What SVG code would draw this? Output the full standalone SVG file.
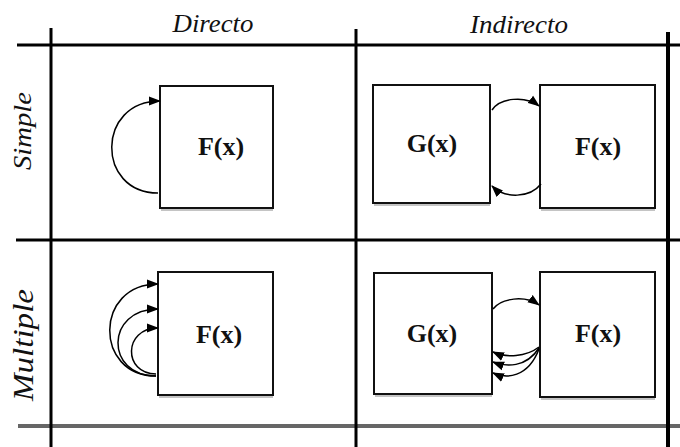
<svg xmlns="http://www.w3.org/2000/svg" width="680" height="447" viewBox="0 0 680 447">
<defs>
<marker id="ah" viewBox="0 0 12 10" refX="11" refY="5" markerWidth="12" markerHeight="10" markerUnits="userSpaceOnUse" orient="auto">
<path d="M0,0.5 L12,5 L0,9.5 Z" fill="#000"/>
</marker>
<style>
.grid{stroke:#000;stroke-width:3;fill:none}
.box{fill:#fff;stroke:#111;stroke-width:2}
.shadow{stroke:#c4c4c4;stroke-width:2;fill:none}
.lbl{font-family:"Liberation Serif","Times New Roman",serif;font-size:26px;font-weight:bold;fill:#111;text-anchor:middle}
.hdr{font-family:"Liberation Serif","Times New Roman",serif;font-size:26px;font-style:italic;fill:#111;text-anchor:middle}
.arr{stroke:#000;stroke-width:1.5;fill:none;marker-end:url(#ah)}
</style>
</defs>
<rect width="680" height="447" fill="#fff"/>
<g id="grid">
<line class="grid" x1="17" y1="45" x2="680" y2="45"/>
<line class="grid" x1="16" y1="240" x2="680" y2="240"/>
<line x1="18" y1="426" x2="680" y2="426" stroke="#666" stroke-width="4"/>
<line class="grid" x1="51" y1="28" x2="51" y2="447"/>
<line class="grid" x1="356" y1="29" x2="356" y2="447"/>
<line class="grid" x1="668" y1="32" x2="668" y2="447" style="stroke-width:4"/>
</g>
<g id="headers">
<text class="hdr" x="213" y="32" textLength="81" lengthAdjust="spacingAndGlyphs">Directo</text>
<text class="hdr" x="519" y="33" textLength="98" lengthAdjust="spacingAndGlyphs">Indirecto</text>
<text class="hdr" transform="translate(31,131) rotate(-90)" textLength="78" lengthAdjust="spacingAndGlyphs">Simple</text>
<text class="hdr" transform="translate(33,345) rotate(-90)" style="font-size:30px" textLength="112" lengthAdjust="spacingAndGlyphs">Multiple</text>
</g>
<g id="f-simple-directo">
<line class="shadow" x1="161" y1="210" x2="273" y2="210"/>
<rect class="box" x="160" y="86" width="113" height="122"/>
<text class="lbl" x="221" y="155">F(x)</text>
</g>
<g id="g-simple-indirecto">
<line class="shadow" x1="374" y1="205" x2="490" y2="205"/>
<rect class="box" x="373" y="85" width="117" height="118"/>
<text class="lbl" x="432" y="152">G(x)</text>
</g>
<g id="f-simple-indirecto">
<line class="shadow" x1="541" y1="210" x2="655" y2="210"/>
<rect class="box" x="540" y="85" width="115" height="123"/>
<text class="lbl" x="598" y="155">F(x)</text>
</g>
<g id="f-multiple-directo">
<line class="shadow" x1="159" y1="397" x2="273" y2="397"/>
<rect class="box" x="158" y="272" width="115" height="123"/>
<text class="lbl" x="219" y="343">F(x)</text>
</g>
<g id="g-multiple-indirecto">
<line class="shadow" x1="375" y1="396" x2="492" y2="396"/>
<rect class="box" x="374" y="273" width="118" height="121"/>
<text class="lbl" x="432" y="342">G(x)</text>
</g>
<g id="f-multiple-indirecto">
<line class="shadow" x1="541" y1="399" x2="655" y2="399"/>
<rect class="box" x="540" y="272" width="115" height="125"/>
<text class="lbl" x="598" y="342">F(x)</text>
</g>
<g id="connectors">
<path class="arr" d="M158,193 C96,193 96,101 160,101"/>
<path class="arr" d="M492,110 C500,98 525,95 539,106"/>
<path class="arr" d="M541,184 C530,198 505,199 492,186"/>
<path class="arr" d="M156,376 C94,376 94,284 158,284"/>
<path class="arr" d="M156,376 C105,376 105,309 158,309"/>
<path class="arr" d="M156,374 C123,374 123,328 158,328"/>
<path class="arr" d="M493,309 C501,298 525,295 539,305"/>
<path class="arr" d="M539,347 C526,357 506,358 493,352"/>
<path class="arr" d="M539,348 C526,368 506,367 493,362"/>
<path class="arr" d="M539,349 C528,378 506,379 493,373"/>
</g>
</svg>
